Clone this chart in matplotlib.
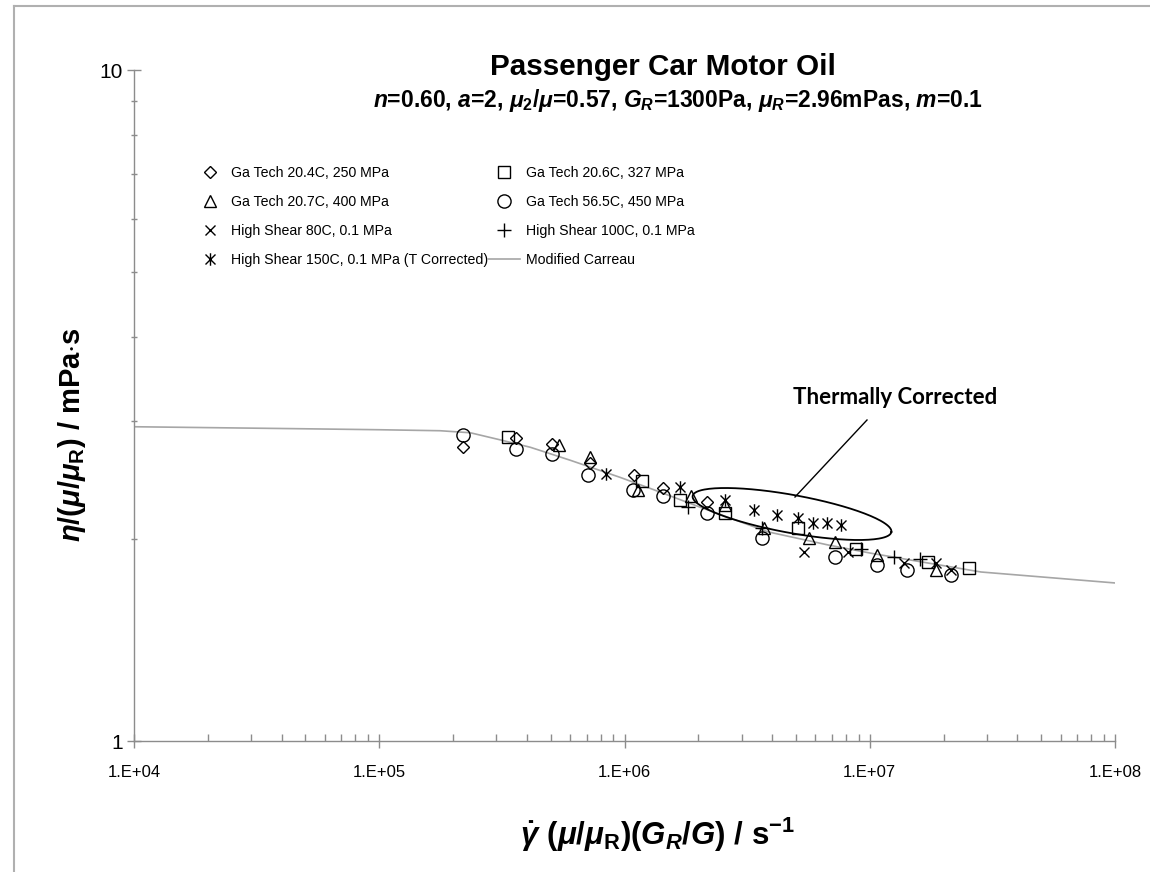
import numpy as np
import matplotlib
matplotlib.use('Agg')
import matplotlib.pyplot as plt
from matplotlib.path import Path
from matplotlib.lines import Line2D
from matplotlib.ticker import FixedLocator, FuncFormatter, LogLocator, NullFormatter

plt.rcParams['font.family'] = ['Liberation Sans', 'DejaVu Sans']
plt.rcParams['mathtext.fontset'] = 'custom'
plt.rcParams['mathtext.rm'] = 'Liberation Sans:bold'
plt.rcParams['mathtext.bf'] = 'Liberation Sans:bold'
plt.rcParams['mathtext.it'] = 'Liberation Sans:italic:bold'

# reduced shear rate (1/s) and reduced viscosity (mPa.s) per data set
gt204_x = [2.20e5, 3.62e5, 5.04e5, 7.26e5, 1.09e6, 1.43e6, 2.16e6]
gt204_y = [2.74, 2.83, 2.77, 2.60, 2.49, 2.38, 2.27]

gt206_x = [3.36e5, 1.18e6, 1.69e6, 2.56e6, 5.08e6, 8.77e6, 1.73e7, 2.54e7]
gt206_y = [2.84, 2.44, 2.29, 2.19, 2.08, 1.93, 1.85, 1.81]

gt207_x = [5.43e5, 7.26e5, 1.14e6, 1.86e6, 2.56e6, 3.69e6, 5.64e6, 7.20e6, 1.07e7, 1.87e7]
gt207_y = [2.76, 2.65, 2.37, 2.32, 2.25, 2.08, 2.01, 1.98, 1.89, 1.80]

gt565_x = [2.20e5, 3.62e5, 5.04e5, 7.13e5, 1.08e6, 1.43e6, 2.16e6, 3.62e6, 7.20e6, 1.07e7, 1.42e7, 2.14e7]
gt565_y = [2.86, 2.72, 2.68, 2.49, 2.37, 2.32, 2.19, 2.01, 1.88, 1.83, 1.80, 1.77]

hs80_x = [5.38e6, 8.13e6, 1.38e7, 1.87e7, 2.14e7]
hs80_y = [1.91, 1.91, 1.84, 1.84, 1.80]

hs100_x = [1.81e6, 3.62e6, 9.19e6, 1.25e7, 1.61e7]
hs100_y = [2.23, 2.08, 1.93, 1.88, 1.87]

hs150_x = [8.44e5, 1.69e6, 2.56e6, 3.36e6, 4.17e6, 5.08e6, 5.85e6, 6.68e6, 7.61e6]
hs150_y = [2.50, 2.39, 2.29, 2.21, 2.17, 2.15, 2.11, 2.11, 2.10]

# Modified Carreau fit
carreau_x = [1e4, 4.77e4, 1e5, 1.77e5, 2.35e5, 3.12e5, 4.13e5, 6.02e5, 9.63e5, 1.31e6,
             2.04e6, 3.84e6, 6.74e6, 1.01e7, 1.61e7, 2.84e7, 1e8]
carreau_y = [2.94, 2.92, 2.91, 2.90, 2.88, 2.81, 2.74, 2.62, 2.47, 2.37,
             2.23, 2.05, 1.96, 1.905, 1.85, 1.786, 1.72]

# "x" with a vertical bar
star = Path([(-1, -1), (1, 1), (-1, 1), (1, -1), (0, -1.25), (0, 1.25)],
            [Path.MOVETO, Path.LINETO, Path.MOVETO, Path.LINETO, Path.MOVETO, Path.LINETO])

fig = plt.figure(figsize=(11.5, 8.72), dpi=100)
ax = fig.add_axes([134 / 1150, 131 / 872, 981 / 1150, 671 / 872])

ax.plot(carreau_x, carreau_y, color='#a6a6a6', lw=1.2, zorder=1)

mk = dict(ls='none', mfc='none', mec='black', mew=1.0, color='black', zorder=3)
h1, = ax.plot(gt204_x, gt204_y, marker='D', ms=6.5, **mk)
h2, = ax.plot(gt206_x, gt206_y, marker='s', ms=8, **mk)
h3, = ax.plot(gt207_x, gt207_y, marker='^', ms=9, **mk)
h4, = ax.plot(gt565_x, gt565_y, marker='o', ms=9.5, **mk)
h5, = ax.plot(hs80_x, hs80_y, marker='x', ms=7.5, **mk)
h6, = ax.plot(hs100_x, hs100_y, marker='+', ms=10, **mk)
h7, = ax.plot(hs150_x, hs150_y, marker=star, ms=9, **mk)
h8 = Line2D([], [], color='#a6a6a6', lw=1.2)

ax.set_xscale('log')
ax.set_yscale('log')
ax.set_xlim(1e4, 1e8)
ax.set_ylim(1, 10)

for s in ['top', 'right']:
    ax.spines[s].set_visible(False)
for s in ['left', 'bottom']:
    ax.spines[s].set_color('#8c8c8c')
    ax.spines[s].set_linewidth(1.0)

ax.xaxis.set_major_locator(FixedLocator([1e4, 1e5, 1e6, 1e7, 1e8]))
ax.xaxis.set_major_formatter(FuncFormatter(lambda v, p: '1.E+%02d' % round(np.log10(v))))
ax.xaxis.set_minor_locator(LogLocator(base=10, subs=np.arange(2, 10)))
ax.xaxis.set_minor_formatter(NullFormatter())
ax.yaxis.set_major_locator(FixedLocator([1, 10]))
ax.yaxis.set_major_formatter(FuncFormatter(lambda v, p: '%d' % v))
ax.yaxis.set_minor_locator(LogLocator(base=10, subs=np.arange(2, 10)))
ax.yaxis.set_minor_formatter(NullFormatter())

ax.tick_params(axis='x', which='major', direction='inout', length=10, width=1,
               color='#8c8c8c', labelsize=12, pad=12)
ax.tick_params(axis='x', which='minor', direction='in', length=5, width=1, color='#8c8c8c')
ax.tick_params(axis='y', which='major', direction='inout', length=10, width=1,
               color='#8c8c8c', labelsize=15, pad=3)
ax.tick_params(axis='y', which='minor', direction='inout', length=5, width=1, color='#8c8c8c')

ax.set_xlabel(r'$\dot{\gamma}\ (\mu/\mu_{\mathrm{R}})(G_R/G)$ / s$^{-1}$',
              fontsize=22.5, fontweight='bold')
ax.xaxis.set_label_coords((658 - 134) / 981, (741 - 835) / 671)
ax.xaxis.label.set_va('center')
ax.set_ylabel(r'$\eta/(\mu/\mu_{\mathrm{R}})$ / mPa$\cdot$s', fontsize=21, fontweight='bold')
ax.yaxis.set_label_coords((72 - 134) / 981, (741 - 435) / 671)
ax.yaxis.label.set_va('center')

fig.text(663 / 1150, 1 - 67 / 872, 'Passenger Car Motor Oil', fontsize=21.3,
         fontweight='bold', ha='center', va='center')
fig.text(678 / 1150, 1 - 100 / 872,
         r'$n$=0.60, $a$=2, $\mu_2/\mu$=0.57, $G_R$=1300Pa, $\mu_R$=2.96mPas, $m$=0.1',
         fontsize=16.5, fontweight='bold', ha='center', va='center')

leg = ax.legend([h1, h3, h5, h7, h2, h4, h6, h8],
                ['Ga Tech 20.4C, 250 MPa', 'Ga Tech 20.7C, 400 MPa',
                 'High Shear 80C, 0.1 MPa', 'High Shear 150C, 0.1 MPa (T Corrected)',
                 'Ga Tech 20.6C, 327 MPa', 'Ga Tech 56.5C, 450 MPa',
                 'High Shear 100C, 0.1 MPa', 'Modified Carreau'],
                ncol=2, frameon=False, fontsize=10.2, loc='upper left',
                bbox_to_anchor=((188 - 134) / 981, (741 - 160) / 671),
                borderaxespad=0, handlelength=2.24, handletextpad=0.42,
                columnspacing=0.0, labelspacing=1.06)

# callout for the thermally corrected points
t = np.linspace(0, 2 * np.pi, 200)
th = np.deg2rad(-10.3)
ea, eb = 101.0, 19.0
cx, cy = (792 - 134) / 981, (741 - 514) / 671
ex = cx + (ea * np.cos(t) * np.cos(th) - eb * np.sin(t) * np.sin(th)) / 981
ey = cy + (ea * np.cos(t) * np.sin(th) + eb * np.sin(t) * np.cos(th)) / 671
ax.plot(ex, ey, color='black', lw=1.3, transform=ax.transAxes, zorder=4)
ax.plot([(795 - 134) / 981, (867 - 134) / 981], [(741 - 497) / 671, (741 - 420) / 671],
        color='black', lw=1.0, transform=ax.transAxes, zorder=4)
ax.text((895 - 134) / 981, (741 - 397) / 671, 'Thermally Corrected',
        family=['Lato', 'DejaVu Sans'], fontsize=16, fontweight='bold',
        ha='center', va='center', transform=ax.transAxes)

# thin frame round the figure
fig.add_artist(Line2D([14 / 1150, 14 / 1150], [0, 1 - 6 / 872], color='#b0b0b0', lw=1.5))
fig.add_artist(Line2D([14 / 1150, 1], [1 - 6 / 872, 1 - 6 / 872], color='#b0b0b0', lw=1.5))

fig.savefig('out.png', dpi=100)
